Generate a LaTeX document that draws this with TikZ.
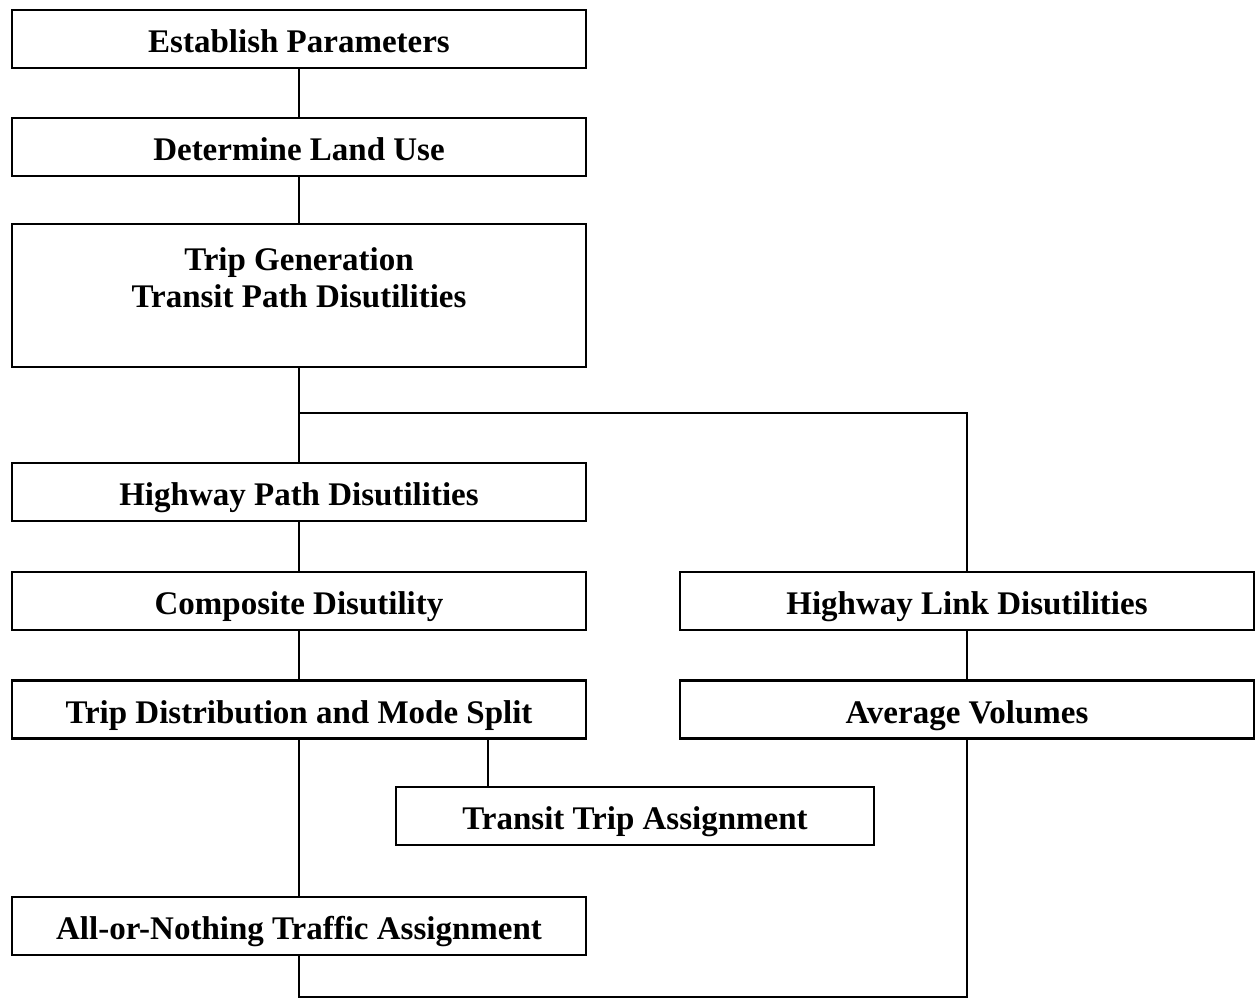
\documentclass[tikz,border=0pt]{standalone}
\usepackage{fontspec}
\setmainfont{Liberation Serif}
\begin{document}
\begin{tikzpicture}[x=1pt,y=-1pt,
  box/.style={draw, line width=2.4pt, minimum width=574pt, minimum height=58pt,
    inner sep=0pt, text height=27pt, text depth=0pt,
    font=\fontsize{33}{38}\selectfont\bfseries},
  boxtext/.style={inner sep=0pt, font=\fontsize{33}{37}\selectfont\bfseries, align=center},
  link/.style={line width=2pt}]
\useasboundingbox (0,0) rectangle (1259,1000);
\node[box] (b1) at (299,39) {Establish Parameters};
\node[box] (b2) at (299,147) {Determine Land Use};
\node[box, minimum height=143pt, text height=0pt] (b3) at (299,295.5) {};
\node[boxtext, anchor=north] (b3t) at (299,247) {Trip Generation\\Transit Path Disutilities};
\node[box] (b4) at (299,492) {Highway Path Disutilities};
\node[box] (b5) at (299,601) {Composite Disutility};
\node[box] (b6) at (299,709.5) {Trip Distribution and Mode Split};
\node[box, minimum width=478pt] (b7) at (635,816) {Transit Trip Assignment};
\node[box] (b8) at (299,926) {All-or-Nothing Traffic Assignment};
\node[box] (b9) at (967,601) {Highway Link Disutilities};
\node[box] (b10) at (967,709.5) {Average Volumes};
\coordinate (br) at (299,413);
\coordinate (tx) at (488,0);
\coordinate (bl) at (299,997);
\draw[link] (b1) -- (b2);
\draw[link] (b2) -- (b3);
\draw[link] (b3) -- (b4);
\draw[link] (br) -| (b9.north);
\draw[link] (b4) -- (b5);
\draw[link] (b5) -- (b6);
\draw[link] (b6) -- (b8);
\draw[link] (b9) -- (b10);
\draw[link] (b6.south -| tx) -- (b7.north -| tx);
\draw[link] (b8.south) -- (bl) -| (b10.south);
\end{tikzpicture}
\end{document}
